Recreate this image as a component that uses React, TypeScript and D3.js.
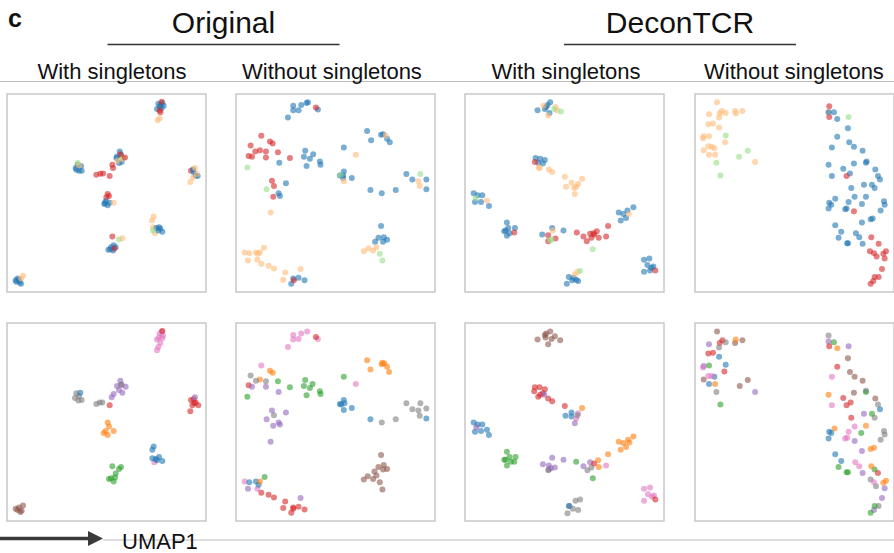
import React from "react";
import { scaleLinear, scaleOrdinal } from "d3";

const width = 894;
const height = 553;
const font = "'Liberation Sans', Arial, sans-serif";

// UMAP coordinates (x, y downward, group)
type Pt = [number, number, string];

const groupsTop = ["b", "o", "g", "r"];
const colorsTop = ["#1f77b4", "#ffbb78", "#98df8a", "#d62728"];
const groupsBottom = ["b", "o", "g", "r", "p", "n", "k", "y"];
const colorsBottom = ["#1f77b4", "#ff7f0e", "#2ca02c", "#d62728", "#9467bd", "#8c564b", "#e377c2", "#7f7f7f"];

const columnTitles = ["With singletons", "Without singletons", "With singletons", "Without singletons"];
const groupTitles = ["Original", "DeconTCR"];

const xLimits = [[20, 617], [24, 622], [22, 620], [20, 616]];
const yLimits = [[17, 613], [20, 617]];

const origWithTop: Pt[] = [
  [474,46,"b"],[486,44,"b"],[490,52,"b"],[478,56,"b"],[470,62,"b"],[484,60,"b"],[480,50,"b"],[484,40,"r"],[480,72,"r"],[478,66,"r"],[472,96,"o"],[478,90,"o"],
  [358,190,"b"],[350,205,"b"],[362,200,"b"],[356,225,"b"],[364,222,"b"],[348,210,"b"],[352,218,"o"],[366,212,"o"],[368,210,"g"],[374,208,"r"],[360,198,"r"],
  [288,260,"r"],[300,257,"r"],[308,256,"r"],[328,264,"r"],[338,240,"r"],[336,230,"r"],
  [226,240,"b"],[232,230,"b"],[242,234,"b"],[236,248,"b"],[244,248,"b"],[228,245,"b"],[232,224,"g"],[236,232,"o"],
  [572,248,"r"],[578,244,"b"],[586,262,"b"],[592,264,"b"],[580,252,"b"],[584,240,"o"],[578,268,"o"],[570,282,"o"],[590,258,"o"],
  [322,318,"r"],[326,324,"r"],[318,328,"r"],[316,340,"b"],[312,348,"b"],[322,352,"b"],[328,344,"b"],[314,345,"b"],[340,344,"o"],
  [460,386,"o"],[455,398,"o"],[458,418,"o"],[464,436,"o"],[468,420,"b"],[476,418,"b"],[486,432,"b"],[474,428,"b"],[480,422,"b"],[458,428,"g"],
  [336,446,"r"],[356,455,"g"],[366,451,"o"],[340,472,"b"],[346,478,"b"],[330,484,"b"],[338,488,"b"],[324,486,"b"],[332,478,"b"],[342,482,"r"],
  [46,578,"b"],[52,572,"b"],[58,584,"b"],[62,588,"b"],[48,582,"b"],[56,576,"b"],[68,564,"o"],[62,572,"o"],
];

const origWithoutTop: Pt[] = [
  [196,52,"b"],[220,50,"b"],[236,44,"b"],[240,42,"b"],[196,66,"b"],[212,66,"b"],[180,88,"b"],[270,64,"b"],[264,58,"r"],
  [100,143,"r"],[126,160,"r"],[134,166,"r"],[68,172,"r"],[82,190,"r"],[96,186,"r"],[114,190,"r"],[150,192,"r"],[62,204,"r"],[72,206,"r"],[114,208,"r"],[186,210,"r"],
  [58,238,"g"],[154,224,"b"],
  [232,188,"b"],[256,198,"b"],[228,206,"b"],[246,212,"b"],[276,220,"b"],[278,230,"b"],[236,234,"b"],
  [132,278,"r"],[138,294,"r"],[136,326,"r"],[174,286,"b"],[152,316,"b"],[156,324,"b"],[116,304,"g"],[128,374,"o"],
  [348,178,"b"],[384,200,"o"],
  [348,250,"b"],[346,262,"b"],[336,262,"b"],[346,270,"b"],[372,270,"b"],[338,260,"g"],[348,280,"o"],
  [418,128,"b"],[430,156,"b"],[460,140,"b"],[466,138,"b"],[478,152,"b"],[486,162,"b"],[474,142,"o"],
  [536,258,"b"],[554,274,"b"],[596,274,"b"],[596,304,"b"],[428,306,"b"],[462,316,"b"],[504,306,"b"],[572,280,"o"],[576,294,"o"],[578,258,"g"],
  [460,414,"b"],[452,450,"b"],[468,448,"b"],[478,456,"b"],[466,462,"b"],[442,462,"b"],[408,490,"o"],[422,482,"o"],[436,488,"o"],[446,478,"o"],[456,498,"g"],[464,518,"g"],
  [50,494,"o"],[64,496,"o"],[84,494,"o"],[90,498,"o"],[96,494,"o"],[108,480,"o"],[60,518,"o"],[88,516,"o"],[100,528,"o"],[122,534,"o"],[138,542,"o"],[172,554,"o"],[218,544,"o"],[166,576,"o"],
  [196,572,"b"],[212,570,"b"],[230,578,"b"],[190,588,"b"],[198,578,"r"],
];

const deconWithTop: Pt[] = [
  [240,66,"b"],[262,62,"b"],[270,50,"b"],[278,42,"b"],[276,74,"b"],[266,56,"b"],[258,52,"o"],[272,82,"o"],[294,56,"o"],[298,66,"o"],[310,70,"g"],[290,62,"g"],
  [234,210,"b"],[248,212,"b"],[262,216,"b"],[256,226,"b"],[242,224,"b"],[232,222,"r"],[244,238,"o"],[246,240,"o"],[274,244,"o"],[284,252,"o"],
  [322,266,"o"],[342,284,"o"],[362,288,"o"],[374,272,"o"],[326,296,"o"],[350,300,"o"],[356,296,"o"],[352,318,"o"],
  [48,316,"b"],[60,322,"b"],[74,322,"b"],[52,342,"b"],[70,342,"b"],[94,354,"b"],[54,330,"g"],[88,338,"o"],
  [484,374,"b"],[498,378,"b"],[510,368,"b"],[528,358,"b"],[490,398,"b"],[506,390,"b"],[514,378,"o"],
  [148,404,"b"],[144,428,"b"],[152,420,"b"],[172,420,"b"],[148,444,"b"],[156,436,"b"],[140,430,"b"],[170,434,"r"],
  [284,420,"b"],[254,440,"b"],[318,428,"b"],[286,428,"o"],[272,442,"r"],[294,452,"r"],[272,460,"r"],[282,454,"g"],[278,458,"g"],
  [358,434,"r"],[378,446,"r"],[388,460,"r"],[398,438,"r"],[410,440,"r"],[402,450,"r"],[424,450,"r"],[446,446,"r"],[452,414,"r"],[418,430,"r"],[408,436,"r"],
  [406,484,"g"],
  [334,568,"b"],[344,578,"b"],[356,576,"b"],[362,580,"b"],[328,588,"b"],[348,570,"b"],[352,560,"o"],[360,552,"o"],[368,550,"g"],
  [560,516,"b"],[576,512,"b"],[570,532,"b"],[582,540,"b"],[588,536,"b"],[560,552,"b"],[578,548,"b"],[594,548,"r"],
];

const deconWithoutTop: Pt[] = [
  [86,42,"o"],[100,68,"o"],[94,76,"o"],[112,74,"o"],[140,68,"o"],[142,76,"o"],[162,68,"o"],[62,78,"o"],[92,88,"o"],[60,108,"o"],[74,106,"o"],[92,118,"o"],
  [46,144,"o"],[62,144,"o"],[44,150,"o"],[110,162,"o"],[60,174,"o"],[70,176,"o"],[78,180,"o"],[46,186,"o"],[62,200,"o"],[80,200,"o"],[200,222,"o"],
  [112,142,"g"],[178,188,"g"],[152,206,"g"],[84,224,"g"],[96,262,"g"],
  [422,54,"r"],[422,86,"r"],[420,72,"o"],[420,72,"b"],[436,72,"b"],[446,92,"b"],[480,86,"g"],
  [478,120,"b"],[446,146,"b"],[482,162,"b"],[430,178,"b"],[496,176,"b"],[522,188,"b"],[534,220,"b"],[532,224,"b"],[496,226,"b"],[420,230,"b"],[464,242,"b"],
  [484,256,"b"],[430,264,"b"],[560,244,"b"],[568,264,"b"],[574,274,"b"],[488,300,"b"],[526,290,"b"],[550,290,"b"],[558,300,"b"],[440,332,"b"],[498,326,"b"],
  [480,342,"b"],[532,326,"b"],[520,348,"b"],[422,344,"b"],[428,350,"b"],[586,340,"b"],[588,350,"b"],[470,364,"b"],[474,362,"b"],[420,362,"b"],[576,368,"b"],
  [546,394,"b"],[552,392,"b"],[520,404,"b"],[440,412,"b"],[458,432,"b"],[502,436,"b"],[450,450,"b"],[512,448,"b"],[476,466,"b"],[478,466,"b"],[522,468,"b"],
  [474,264,"r"],[496,370,"r"],[548,448,"r"],[570,468,"r"],[544,490,"r"],[556,496,"r"],[592,490,"r"],[584,498,"r"],[564,506,"r"],[588,512,"r"],
  [580,544,"r"],[570,568,"r"],[558,568,"r"],[554,580,"r"],[546,588,"r"],
];

const origWithBottom: Pt[] = [
  [484,46,"k"],[478,52,"k"],[488,58,"k"],[476,64,"k"],[470,70,"k"],[486,66,"k"],[480,80,"k"],[474,92,"k"],[470,102,"k"],[486,44,"r"],
  [360,194,"p"],[350,210,"p"],[364,206,"p"],[376,212,"p"],[356,222,"p"],[366,230,"p"],[340,234,"p"],[334,244,"p"],[362,206,"y"],
  [228,232,"y"],[236,240,"y"],[224,246,"y"],[244,252,"y"],[234,254,"y"],[240,230,"b"],[288,264,"y"],[298,260,"y"],[306,260,"y"],[328,268,"r"],
  [572,252,"r"],[580,250,"r"],[586,260,"r"],[576,268,"r"],[594,268,"r"],[582,262,"r"],[570,286,"r"],[584,244,"p"],
  [322,320,"o"],[326,332,"o"],[316,346,"o"],[310,352,"o"],[322,358,"o"],[340,346,"o"],
  [460,392,"b"],[456,402,"b"],[462,440,"k"],[456,428,"b"],[466,430,"b"],[476,424,"b"],[486,436,"b"],[470,434,"b"],
  [336,452,"g"],[362,454,"g"],[356,460,"g"],[346,474,"g"],[332,488,"g"],[340,498,"g"],[326,490,"g"],[344,486,"g"],
  [46,580,"n"],[56,576,"n"],[68,570,"n"],[60,590,"n"],[52,584,"n"],[64,586,"n"],
];

const origWithoutBottom: Pt[] = [
  [196,56,"k"],[220,52,"k"],[238,46,"k"],[196,70,"k"],[212,68,"k"],[180,92,"k"],[270,68,"k"],[264,62,"r"],
  [100,148,"k"],[126,164,"o"],[134,170,"o"],[96,190,"o"],[68,178,"y"],[84,194,"y"],[114,196,"y"],[62,208,"r"],[72,212,"p"],[114,212,"p"],[152,228,"p"],
  [58,242,"g"],[150,196,"g"],[186,214,"g"],
  [232,192,"g"],[254,204,"g"],[228,210,"g"],[246,216,"g"],[276,226,"g"],[278,234,"g"],[236,238,"g"],
  [132,284,"p"],[174,290,"p"],[116,310,"p"],[152,320,"p"],[156,326,"p"],[136,330,"p"],[128,378,"p"],[138,298,"y"],
  [348,182,"g"],[384,204,"k"],
  [348,252,"b"],[340,266,"b"],[336,264,"b"],[350,262,"b"],[348,282,"b"],[372,276,"b"],
  [418,132,"o"],[428,160,"o"],[464,140,"o"],[470,142,"o"],[478,152,"o"],[484,168,"o"],[462,144,"o"],
  [536,262,"y"],[554,280,"y"],[578,262,"y"],[596,278,"y"],[572,284,"y"],[576,300,"y"],[596,308,"b"],[428,310,"b"],[462,320,"y"],[504,310,"y"],
  [460,418,"n"],[452,454,"n"],[468,448,"n"],[478,460,"n"],[440,468,"n"],[466,462,"n"],[420,482,"n"],[408,492,"n"],[436,490,"n"],[446,480,"n"],[456,500,"n"],[464,522,"n"],
  [50,498,"k"],[88,520,"k"],[64,500,"b"],[84,498,"b"],[92,508,"b"],[96,498,"o"],[110,484,"g"],[60,520,"p"],
  [100,532,"r"],[122,538,"r"],[138,546,"r"],[172,558,"r"],[166,578,"r"],[196,576,"r"],[212,574,"r"],[230,582,"r"],[190,592,"r"],[196,580,"r"],[218,548,"p"],
];

const deconWithBottom: Pt[] = [
  [240,70,"n"],[262,56,"n"],[278,46,"n"],[264,64,"n"],[292,60,"n"],[308,72,"n"],[272,84,"n"],[282,68,"n"],[266,52,"n"],
  [232,214,"r"],[246,214,"r"],[262,220,"r"],[256,232,"r"],[230,226,"r"],[242,242,"r"],[248,236,"r"],[272,248,"r"],[284,256,"r"],[322,270,"r"],[260,236,"p"],
  [374,276,"o"],[324,300,"b"],[342,290,"b"],[342,302,"b"],[362,292,"k"],[356,308,"k"],[360,298,"y"],[352,322,"p"],
  [48,320,"b"],[60,326,"b"],[74,326,"b"],[52,348,"b"],[70,346,"b"],[94,358,"b"],[88,342,"b"],[56,334,"p"],
  [484,378,"o"],[498,382,"o"],[512,372,"o"],[528,362,"o"],[490,402,"o"],[506,394,"o"],[516,380,"o"],
  [148,408,"g"],[144,432,"g"],[156,424,"g"],[174,424,"g"],[148,450,"g"],[160,438,"g"],[140,432,"g"],[170,438,"g"],
  [284,426,"p"],[256,446,"p"],[318,432,"p"],[274,450,"p"],[292,456,"p"],[274,462,"p"],[280,458,"p"],[272,464,"y"],
  [356,438,"g"],[406,488,"g"],[378,452,"p"],[398,440,"p"],[390,464,"y"],[402,456,"y"],[410,444,"r"],[422,434,"o"],[424,454,"o"],[452,416,"o"],[446,450,"k"],
  [336,572,"y"],[354,556,"y"],[362,584,"y"],[368,552,"y"],[330,594,"y"],[346,580,"y"],[334,572,"b"],
  [560,520,"k"],[578,516,"k"],[572,536,"k"],[584,544,"k"],[590,540,"k"],[560,556,"k"],[594,552,"r"],
];

const deconWithoutBottom: Pt[] = [
  [86,46,"n"],[140,80,"n"],[162,72,"n"],[46,190,"n"],[154,210,"n"],[178,192,"n"],
  [62,84,"p"],[46,150,"p"],[200,228,"p"],
  [94,80,"r"],[102,72,"r"],[60,112,"r"],[74,110,"r"],[108,166,"r"],
  [112,78,"y"],[92,94,"y"],[84,228,"y"],
  [142,70,"o"],[80,204,"o"],
  [92,122,"b"],[112,146,"b"],[78,182,"b"],[62,204,"b"],
  [62,148,"g"],[96,266,"g"],
  [44,154,"k"],[60,180,"k"],[70,180,"k"],
  [420,58,"y"],[568,266,"y"],[558,306,"y"],[586,346,"y"],[588,356,"y"],[576,372,"y"],[546,492,"y"],[562,512,"y"],[570,572,"y"],
  [420,76,"p"],[480,90,"p"],[532,224,"p"],[526,294,"p"],[498,376,"p"],[520,406,"p"],[522,472,"p"],[588,518,"p"],[580,548,"p"],[556,584,"p"],
  [436,78,"g"],[532,228,"g"],[550,294,"g"],[518,352,"g"],[450,454,"g"],[474,470,"g"],[478,470,"g"],[558,462,"g"],[558,572,"g"],[546,592,"g"],
  [422,90,"r"],[446,152,"r"],[464,246,"r"],[486,260,"r"],[474,268,"r"],[488,306,"r"],[568,472,"r"],
  [446,96,"o"],[420,236,"o"],[438,338,"o"],[532,330,"o"],[546,400,"o"],[556,396,"o"],[548,452,"o"],[592,496,"o"],[584,502,"o"],
  [478,126,"n"],[484,168,"n"],[498,182,"n"],[522,194,"n"],[496,230,"n"],[560,248,"n"],
  [430,182,"k"],[430,268,"k"],[498,332,"k"],[480,348,"k"],[470,368,"k"],[476,366,"k"],[500,440,"k"],[512,452,"k"],[556,500,"k"],
  [574,280,"b"],[422,348,"b"],[428,352,"b"],[420,368,"b"],[440,416,"b"],[458,436,"b"],
];

const panels: Pt[][][] = [
  [origWithTop, origWithoutTop, deconWithTop, deconWithoutTop],
  [origWithBottom, origWithoutBottom, deconWithBottom, deconWithoutBottom],
];

const colLeft = [7, 236, 465, 695];
const rowTop = [94, 323];
const panelW = 199;
const panelH = 198;

const topColor = scaleOrdinal<string, string>().domain(groupsTop).range(colorsTop);
const bottomColor = scaleOrdinal<string, string>().domain(groupsBottom).range(colorsBottom);

const Panel = ({ data, col, row }: { data: Pt[]; col: number; row: number }) => {
  const x = scaleLinear().domain(xLimits[col]).range([colLeft[col], colLeft[col] + panelW]);
  const y = scaleLinear().domain(yLimits[row]).range([rowTop[row], rowTop[row] + panelH]);
  const color = row === 0 ? topColor : bottomColor;
  return (
    <g>
      <rect x={colLeft[col]} y={rowTop[row]} width={panelW} height={panelH} fill="white" stroke="#c8c8c8" strokeWidth={1.5} />
      {data.map((d, i) => (
        <circle key={i} cx={x(d[0])} cy={y(d[1])} r={3} fill={color(d[2])} fillOpacity={0.6} />
      ))}
    </g>
  );
};

const colCenters = [112, 332, 566, 794];
const groupCenters = [223.5, 680];

export default function App() {
  return (
    <svg width={width} height={height} style={{ position: "absolute", left: 0, top: 0, fontFamily: font }}>
      <rect width={width} height={height} fill="white" />
      <text x={8} y={27} fontSize={25} fontWeight="bold" fill="#111">c</text>
      {groupTitles.map((t, i) => (
        <g key={t}>
          <text x={groupCenters[i]} y={33} fontSize={30} textAnchor="middle" fill="#111">{t}</text>
          <line x1={groupCenters[i] - 116} x2={groupCenters[i] + 116} y1={44.5} y2={44.5} stroke="#333" strokeWidth={1.5} />
        </g>
      ))}
      <line x1={0} x2={width} y1={81.5} y2={81.5} stroke="#bbb" strokeWidth={1} />
      {columnTitles.map((t, i) => (
        <text key={i} x={colCenters[i]} y={78.5} fontSize={22} textAnchor="middle" fill="#111">{t}</text>
      ))}
      {panels.map((row, r) => row.map((data, c) => <Panel key={`${r}-${c}`} data={data} col={c} row={r} />))}
      <line x1={103} x2={width} y1={540} y2={540} stroke="#bbb" strokeWidth={1} />
      <line x1={0} x2={90} y1={538.5} y2={538.5} stroke="#3a3a3a" strokeWidth={3.5} />
      <path d="M88,531 L103,538.5 L88,546 Z" fill="#3a3a3a" />
      <text x={122} y={549} fontSize={22} fill="#111">UMAP1</text>
    </svg>
  );
}
